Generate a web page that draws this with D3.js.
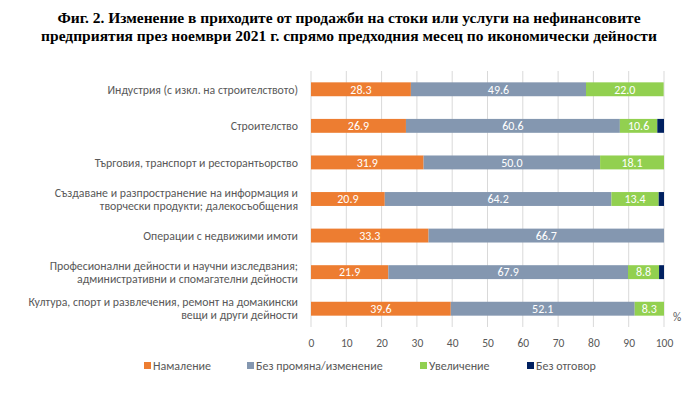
<!DOCTYPE html>
<html>
<head>
<meta charset="utf-8">
<script src="https://cdn.jsdelivr.net/npm/d3@7"></script>
<style>
  body { margin: 0; background: #fff; }
  svg { display: block; }
</style>
</head>
<body>
<script>
// categories (lines of each label)
var categories = [
  ["Индустрия (с изкл. на строителството)"],
  ["Строителство"],
  ["Търговия, транспорт и ресторантьорство"],
  ["Създаване и разпространение на информация и", "творчески продукти; далекосъобщения"],
  ["Операции с недвижими имоти"],
  ["Професионални дейности и научни изследвания;", "административни и спомагателни дейности"],
  ["Култура, спорт и развлечения, ремонт на домакински", "вещи и други дейности"]
];
var seriesNames = ["Намаление", "Без промяна/изменение", "Увеличение", "Без отговор"];
var decrease  = [28.3, 26.9, 31.9, 20.9, 33.3, 21.9, 39.6];
var noChange  = [49.6, 60.6, 50.0, 64.2, 66.7, 67.9, 52.1];
var increase  = [22.0, 10.6, 18.1, 13.4, 0, 8.8, 8.3];
var noAnswer  = [0, 1.9, 0, 1.5, 0, 1.4, 0];
var xTicks = [0, 10, 20, 30, 40, 50, 60, 70, 80, 90, 100];

var colors = ["#ED7D31", "#8497B0", "#92D050", "#002060"];

var w = 697, h = 396;
var margin = { left: 311, right: 33, top: 71, bottom: 69 };

var svg = d3.select("body").append("svg")
  .attr("width", w)
  .attr("height", h);

// title
var title = svg.append("text")
  .attr("text-anchor", "middle")
  .attr("font-family", "'Liberation Serif', 'Times New Roman', serif")
  .attr("font-weight", "bold")
  .attr("font-size", 15.5)
  .attr("fill", "#000");
title.append("tspan").attr("x", 349).attr("y", 23)
  .text("Фиг. 2. Изменение в приходите от продажби на стоки или услуги на нефинансовите");
title.append("tspan").attr("x", 349).attr("y", 41)
  .text("предприятия през ноември 2021 г. спрямо предходния месец по икономически дейности");

// build rows
var rows = categories.map(function(c, i) {
  return { label: c, values: [decrease[i], noChange[i], increase[i], noAnswer[i]] };
});

var xScale = d3.scaleLinear()
  .domain([0, 100])
  .range([margin.left, w - margin.right]);

var yScale = d3.scaleBand()
  .domain(d3.range(rows.length))
  .range([margin.top, h - margin.bottom])
  .paddingInner(0.62)
  .paddingOuter(0.31);

// gridlines
svg.append("g")
  .selectAll("line")
  .data(xTicks)
  .enter()
  .append("line")
  .attr("x1", function(d) { return xScale(d); })
  .attr("x2", function(d) { return xScale(d); })
  .attr("y1", margin.top)
  .attr("y2", h - margin.bottom)
  .attr("stroke", "#d9d9d9")
  .attr("stroke-width", 1);

// stacked bars
var stack = d3.stack().keys([0, 1, 2, 3]).value(function(d, k) { return d.values[k]; });
var layers = stack(rows);

var font = "Carlito, Calibri, 'Open Sans', sans-serif";

svg.append("g")
  .selectAll("g")
  .data(layers)
  .enter()
  .append("g")
  .attr("fill", function(d, i) { return colors[i]; })
  .selectAll("rect")
  .data(function(d) { return d.map(function(p, j) { return { p: p, j: j }; }); })
  .enter()
  .append("rect")
  .attr("x", function(d) { return xScale(d.p[0]); })
  .attr("width", function(d) { return xScale(d.p[1]) - xScale(d.p[0]); })
  .attr("y", function(d) { return yScale(d.j); })
  .attr("height", yScale.bandwidth());

// value labels
layers.forEach(function(layer, k) {
  if (k === 3) return;
  svg.append("g")
    .selectAll("text")
    .data(layer.map(function(p, j) { return { p: p, j: j, v: rows[j].values[k] }; })
      .filter(function(d) { return d.v > 0; }))
    .enter()
    .append("text")
    .attr("x", function(d) { return (xScale(d.p[0]) + xScale(d.p[1])) / 2; })
    .attr("y", function(d) { return yScale(d.j) + yScale.bandwidth() / 2; })
    .attr("dy", "0.36em")
    .attr("text-anchor", "middle")
    .attr("font-family", font)
    .attr("font-size", 12)
    .attr("fill", "#fff")
    .text(function(d) { return d.v.toFixed(1); });
});

// category labels
var labels = svg.append("g")
  .selectAll("text")
  .data(rows)
  .enter()
  .append("text")
  .attr("text-anchor", "end")
  .attr("font-family", font)
  .attr("font-size", 11.8)
  .attr("fill", "#595959")
  .attr("y", function(d, i) {
    return yScale(i) + yScale.bandwidth() / 2 - (d.label.length - 1) * 6.5;
  });
labels.selectAll("tspan")
  .data(function(d) { return d.label; })
  .enter()
  .append("tspan")
  .attr("x", 298)
  .attr("dy", function(d, i) { return i === 0 ? "0.36em" : 13; })
  .text(function(d) { return d; });

// x axis labels
var xAxis = d3.axisBottom(xScale)
  .tickValues(xTicks)
  .tickSize(0)
  .tickPadding(9);
var gx = svg.append("g")
  .attr("transform", "translate(0," + (h - margin.bottom + 3) + ")")
  .call(xAxis);
gx.select(".domain").remove();
gx.selectAll("text")
  .attr("font-family", font)
  .attr("font-size", 11.5)
  .attr("fill", "#595959");

svg.append("text")
  .attr("x", 677)
  .attr("y", 321)
  .attr("text-anchor", "middle")
  .attr("font-family", font)
  .attr("font-size", 11.5)
  .attr("fill", "#595959")
  .text("%");

// legend
var legendX = [144, 247, 420, 527];
var legend = svg.append("g")
  .selectAll("g")
  .data(seriesNames)
  .enter()
  .append("g")
  .attr("transform", function(d, i) { return "translate(" + legendX[i] + ",366)"; });
legend.append("rect")
  .attr("x", 0)
  .attr("y", -4)
  .attr("width", 7)
  .attr("height", 7)
  .attr("fill", function(d, i) { return colors[i]; });
legend.append("text")
  .attr("x", 9)
  .attr("y", 0)
  .attr("dy", "0.36em")
  .attr("font-family", font)
  .attr("font-size", 12)
  .attr("fill", "#595959")
  .text(function(d) { return d; });
</script>
</body>
</html>
